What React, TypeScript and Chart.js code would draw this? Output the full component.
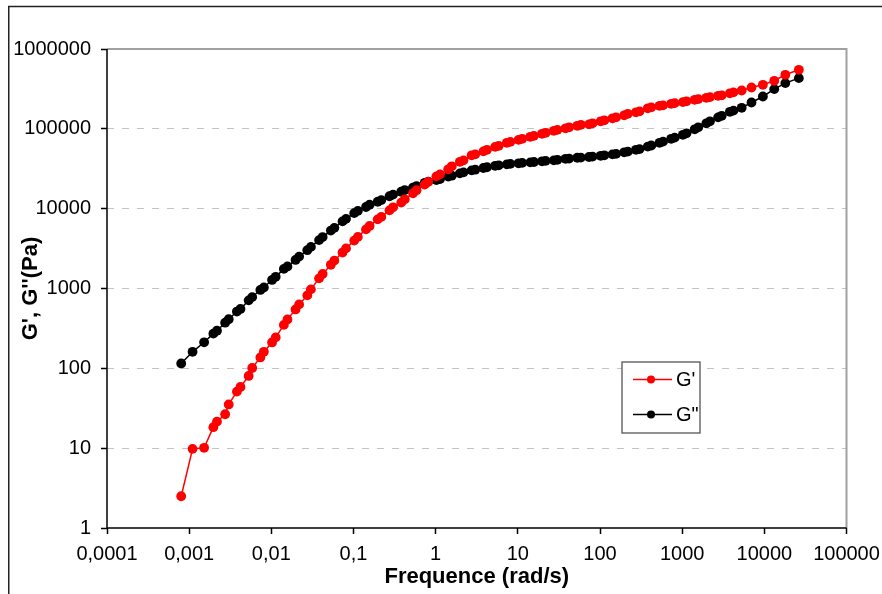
import React, { useEffect, useRef } from 'react';
import { Chart, registerables } from 'chart.js';

Chart.register(...registerables);

const FONT = "'Liberation Sans', Arial, Helvetica, sans-serif";

// Angular frequency (rad/s)
const frequency = [
  0.0008, 0.0011, 0.00152,
  0.00197, 0.00218, 0.00274, 0.00303, 0.00381, 0.00421, 0.0053, 0.00585, 0.00735, 0.00811,
  0.0102, 0.0113, 0.0142, 0.0157, 0.0197, 0.0218, 0.0274, 0.0303, 0.0381, 0.0421, 0.053, 0.0585, 0.0735, 0.0811,
  0.102, 0.113, 0.142, 0.157, 0.197, 0.218, 0.274, 0.303, 0.381, 0.421, 0.53, 0.585, 0.735, 0.811,
  1.02, 1.13, 1.42, 1.57, 1.97, 2.18, 2.74, 3.03, 3.81, 4.21, 5.3, 5.85, 7.35, 8.11,
  10.2, 11.3, 14.2, 15.7, 19.7, 21.8, 27.4, 30.3, 38.1, 42.1, 53, 58.5, 73.5, 81.1,
  102, 113, 142, 157, 197, 218, 274, 303, 381, 421, 530, 585, 735, 811,
  1020, 1130, 1420, 1570, 1970, 2180, 2740, 3030, 3810, 4210, 5300,
  6980, 9600, 13200, 18000, 26300,
];

// Storage modulus G' (Pa)
const gPrime = [
  2.5, 9.8, 10.1,
  18.3, 21.5, 26.6, 35.3, 51.1, 58.5, 80.3, 101,
  137, 161, 211, 244, 350, 410, 547, 632, 820, 975,
  1340, 1520, 1980, 2240, 2820, 3180, 3980, 4430, 5500, 6080,
  7350, 7890, 9520, 10400, 11900, 13100, 15600, 17000, 20000, 21700,
  25400, 26900, 31100, 33900, 38600, 40300, 46600, 47900, 52200, 54600,
  59400, 61200, 66800, 68700, 72800, 75000, 79400, 81700, 86600, 89100,
  94400, 97100, 101500, 104500, 109100, 112300, 113800, 117200, 124200, 127800,
  135400, 139300, 147600, 154200, 161000, 165600, 180700, 185800, 194100, 196900,
  205700, 209900, 216100, 221300, 230800, 235600, 244500, 249600, 259300, 263000,
  278600, 286400, 302000,
  329600, 355900, 399900, 475200, 548400,
];

// Loss modulus G'' (Pa)
const gDoublePrime = [
  115, 161, 212,
  272, 296, 373, 412, 514, 555, 710, 780,
  960, 1030, 1280, 1400, 1760, 1890, 2280, 2510, 3020, 3320,
  4040, 4410, 5320, 5750, 6930, 7450, 8790, 9380, 10500, 11200,
  12200, 12800, 14300, 15000, 16300, 17100, 18400, 19200, 21100, 21800,
  22800, 23500, 25200, 25900, 27700, 28500, 30200, 30800, 32300, 33000,
  34400, 34900, 35900, 36400, 37000, 37500, 38000, 38400, 39200, 39700,
  40300, 40900, 42100, 42400, 43400, 43600, 44400, 44900, 45900, 46600,
  47900, 48600, 50800, 51800, 54600, 55700, 59900, 61800, 66800, 69100,
  75000, 77600, 84100, 87900, 98600, 104500, 117200, 124200, 139300, 145600,
  163300, 169100, 183300,
  213600, 254100, 314100, 373900, 431500,
];

const xTickValues = [0.0001, 0.001, 0.01, 0.1, 1, 10, 100, 1000, 10000, 100000];
const xTickLabels = ['0,0001', '0,001', '0,01', '0,1', '1', '10', '100', '1000', '10000', '100000'];
const yTickValues = [1, 10, 100, 1000, 10000, 100000, 1000000];
const yTickLabels = ['1', '10', '100', '1000', '10000', '100000', '1000000'];

const seriesLabels = ["G'", 'G"'];
const seriesColors = ['#ff0000', '#000000'];
const xTitle = 'Frequence (rad/s)';
const yTitle = "G', G''(Pa)";

const framePlugin = {
  id: 'frame',
  beforeDraw(chart: any) {
    const { ctx } = chart;
    ctx.save();
    ctx.fillStyle = '#ffffff';
    ctx.fillRect(0, 0, chart.width, chart.height);
    ctx.strokeStyle = '#222222';
    ctx.lineWidth = 1.5;
    ctx.beginPath();
    ctx.moveTo(8.75, chart.height);
    ctx.lineTo(8.75, 6.5);
    ctx.lineTo(chart.width, 6.5);
    ctx.stroke();
    ctx.restore();
  },
  beforeDatasetsDraw(chart: any) {
    const { ctx, chartArea } = chart;
    const { left, right, top, bottom } = chartArea;
    ctx.save();
    ctx.setLineDash([]);
    ctx.strokeStyle = '#a0a0a0';
    ctx.lineWidth = 2;
    ctx.beginPath();
    ctx.moveTo(left, top);
    ctx.lineTo(right, top);
    ctx.lineTo(right, bottom);
    ctx.stroke();
    ctx.strokeStyle = '#000000';
    ctx.lineWidth = 1.5;
    ctx.beginPath();
    ctx.moveTo(left, top);
    ctx.lineTo(left, bottom);
    ctx.lineTo(right, bottom);
    ctx.stroke();
    ctx.restore();
  },
  afterDraw(chart: any) {
    const { ctx, chartArea } = chart;
    const x0 = chartArea.left + 515;
    const y0 = chartArea.top + 313;
    const w = 78;
    const h = 71;
    ctx.save();
    ctx.setLineDash([]);
    ctx.fillStyle = '#ffffff';
    ctx.fillRect(x0, y0, w, h);
    ctx.strokeStyle = '#555555';
    ctx.lineWidth = 1.3;
    ctx.strokeRect(x0, y0, w, h);
    chart.data.datasets.forEach((ds: any, i: number) => {
      const cy = y0 + 17.5 + i * 35;
      ctx.strokeStyle = ds.borderColor;
      ctx.lineWidth = 1.5;
      ctx.beginPath();
      ctx.moveTo(x0 + 11, cy);
      ctx.lineTo(x0 + 50, cy);
      ctx.stroke();
      ctx.fillStyle = ds.backgroundColor;
      ctx.beginPath();
      ctx.arc(x0 + 29, cy, 4, 0, Math.PI * 2);
      ctx.fill();
      ctx.fillStyle = '#000000';
      ctx.font = `20px ${FONT}`;
      ctx.textBaseline = 'middle';
      ctx.textAlign = 'left';
      ctx.fillText(ds.label, x0 + 54, cy + 1);
    });
    ctx.restore();
  },
};

export default function App() {
  const canvasRef = useRef<HTMLCanvasElement | null>(null);

  useEffect(() => {
    const canvas = canvasRef.current;
    if (!canvas) return;
    const makeData = (ys: number[]) => frequency.map((f, i) => ({ x: f, y: ys[i] }));
    const chart = new Chart(canvas, {
      type: 'scatter',
      data: {
        datasets: [gPrime, gDoublePrime].map((ys, i) => ({
          label: seriesLabels[i],
          data: makeData(ys),
          showLine: true,
          borderColor: seriesColors[i],
          backgroundColor: seriesColors[i],
          borderWidth: 1.5,
          pointRadius: 4.9,
          pointBorderWidth: 0,
          pointHoverRadius: 4.9,
          pointStyle: 'circle',
          tension: 0,
        })),
      },
      options: {
        animation: false,
        responsive: false,
        events: [],
        layout: { padding: { left: 0, right: 35.5, top: 49, bottom: 0 } },
        plugins: {
          legend: { display: false },
          tooltip: { enabled: false },
          title: { display: false },
        },
        scales: {
          x: {
            type: 'logarithmic',
            position: 'bottom',
            min: 0.0001,
            max: 100000,
            afterBuildTicks: (scale: any) => {
              scale.ticks = xTickValues.map((v) => ({ value: v, major: true }));
            },
            afterFit: (scale: any) => {
              scale.height = 66;
              scale.paddingLeft = 0;
              scale.paddingRight = 0;
            },
            ticks: {
              autoSkip: false,
              maxRotation: 0,
              minRotation: 0,
              padding: 8,
              color: '#000000',
              font: { family: FONT, size: 20 },
              callback: (_v: any, index: number) => xTickLabels[index],
            },
            grid: {
              drawOnChartArea: false,
              drawTicks: true,
              tickLength: 6,
              tickColor: '#000000',
              tickWidth: 1.5,
            },
            border: { display: false },
            title: {
              display: true,
              text: xTitle,
              color: '#000000',
              font: { family: FONT, size: 22, weight: 'bold', lineHeight: 1 },
              padding: { top: 0, bottom: 6 },
            },
          },
          y: {
            type: 'logarithmic',
            position: 'left',
            min: 1,
            max: 1000000,
            afterBuildTicks: (scale: any) => {
              scale.ticks = yTickValues.map((v) => ({ value: v, major: true }));
            },
            afterFit: (scale: any) => {
              scale.width = 107;
              scale.paddingTop = 0;
              scale.paddingBottom = 0;
            },
            ticks: {
              autoSkip: false,
              padding: 10,
              color: '#000000',
              font: { family: FONT, size: 20 },
              callback: (_v: any, index: number) => yTickLabels[index],
            },
            grid: {
              drawOnChartArea: true,
              drawTicks: true,
              tickLength: 6,
              tickColor: '#000000',
              tickWidth: 1.5,
              lineWidth: 1,
              color: (ctx: any) => {
                const v = ctx.tick ? ctx.tick.value : null;
                return v === 1 || v === 1000000 ? 'rgba(0,0,0,0)' : '#c4c4c4';
              },
            },
            border: { display: false, dash: [7, 8] },
            title: {
              display: true,
              text: yTitle,
              color: '#000000',
              font: { family: FONT, size: 22, weight: 'bold', lineHeight: 1 },
              padding: { top: 20, bottom: 0 },
            },
          },
        },
      } as any,
      plugins: [framePlugin],
    });
    return () => chart.destroy();
  }, []);

  return (
    <div style={{ position: 'fixed', left: 0, top: 0, width: 882, height: 594, background: '#fff' }}>
      <canvas ref={canvasRef} width={882} height={594} style={{ display: 'block', width: 882, height: 594 }} />
    </div>
  );
}
